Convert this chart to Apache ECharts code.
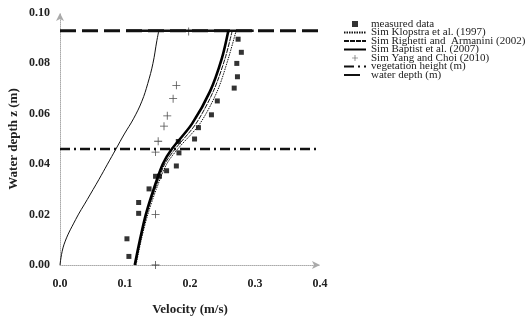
<!DOCTYPE html>
<html>
<head>
<meta charset="utf-8">
<script src="https://cdn.jsdelivr.net/npm/echarts@6/dist/echarts.min.js"></script>
<style>
  html, body {margin: 0; padding: 0; background: #fff;}
  #chart {width: 527px; height: 321px;}
</style>
</head>
<body>
<div id="chart"></div>
<script>
// measured data (velocity m/s, depth m)
const measuredV = [0.274, 0.279, 0.272, 0.273, 0.268, 0.242, 0.233, 0.213, 0.207, 0.182, 0.183, 0.179, 0.164, 0.153, 0.147, 0.137, 0.121, 0.121, 0.103, 0.106];
const measuredZ = [0.0896, 0.0844, 0.080, 0.0747, 0.0702, 0.0651, 0.0596, 0.0545, 0.050, 0.049, 0.0445, 0.0393, 0.0374, 0.0352, 0.0352, 0.0302, 0.0248, 0.0205, 0.0104, 0.0034];

// Sim Yang and Choi (2010)
const yangV = [0.198, 0.179, 0.174, 0.165, 0.160, 0.151, 0.147, 0.147, 0.147];
const yangZ = [0.0927, 0.0713, 0.066, 0.0592, 0.0551, 0.0491, 0.0448, 0.0201, 0.000];

// model profiles share these depths
const profileZ = [0, 0.01, 0.02, 0.03, 0.04, 0.046, 0.056, 0.069, 0.082, 0.093];
const baptistV = [0.115, 0.123, 0.132, 0.144, 0.158, 0.172, 0.203, 0.231, 0.249, 0.259];
const righettiV = [0.116, 0.124, 0.133, 0.146, 0.161, 0.177, 0.209, 0.236, 0.254, 0.265];
const klopstraV = [0.117, 0.125, 0.135, 0.148, 0.164, 0.181, 0.215, 0.242, 0.259, 0.271];

// thin curve on the left
const leftZ = [0, 0.008, 0.018, 0.026, 0.034, 0.040, 0.046, 0.052, 0.058, 0.065, 0.072, 0.080, 0.089, 0.093];
const leftV = [0, 0.006, 0.024, 0.042, 0.060, 0.073, 0.086, 0.099, 0.113, 0.126, 0.135, 0.143, 0.149, 0.152];

const vegHeight = 0.046;
const waterDepth = 0.093;
const surfaceV = [0.102, 0.298];

const xTicks = ['0.0', '0.1', '0.2', '0.3', '0.4'];
const yTicks = ['0.00', '0.02', '0.04', '0.06', '0.08', '0.10'];

const pairs = (xs, ys) => xs.map((x, i) => [x, ys[i]]);

const SERIF = 'Liberation Serif';
const plusPath = 'path://M6.3,0H7.7V6.3H14V7.7H7.7V14H6.3V7.7H0V6.3H6.3Z';
const squarePath = 'path://M0,0H10V10H0Z';
const noMarker = {opacity: 0};

const chart = echarts.init(document.getElementById('chart'), null, {renderer: 'canvas'});

const option = {
  animation: false,
  backgroundColor: '#fff',
  grid: {left: 60, right: 207, top: 13, bottom: 54},
  legend: {
    orient: 'vertical',
    left: 343,
    top: 18.5,
    padding: 0,
    itemWidth: 22,
    itemHeight: 6,
    itemGap: -2.5,
    textStyle: {fontFamily: SERIF, fontSize: 11, lineHeight: 8, color: '#222'},
    data: [
      {name: 'measured data', icon: squarePath},
      {name: 'Sim Klopstra et al. (1997)', itemStyle: noMarker},
      {name: 'Sim Righetti and  Armanini (2002)', itemStyle: noMarker},
      {name: 'Sim Baptist et al. (2007)', itemStyle: noMarker},
      {name: 'Sim Yang and Choi (2010)', icon: plusPath},
      {name: 'vegetation height (m)', itemStyle: noMarker},
      {name: 'water depth (m)', itemStyle: noMarker},
    ],
  },
  xAxis: {
    type: 'value',
    min: 0,
    max: 0.4,
    interval: 0.1,
    name: 'Velocity (m/s)',
    nameLocation: 'middle',
    nameGap: 38,
    nameTextStyle: {fontFamily: SERIF, fontSize: 13, fontWeight: 'bold', color: '#222'},
    axisLine: {
      show: true,
      symbol: ['none', 'arrow'],
      symbolSize: [6, 8],
      lineStyle: {color: '#aaa', type: 'dotted', width: 1},
    },
    axisTick: {show: false},
    splitLine: {show: false},
    axisLabel: {
      margin: 13,
      fontFamily: SERIF,
      fontSize: 12,
      fontWeight: 'bold',
      color: '#222',
      formatter: (v) => xTicks[Math.round(v * 10)],
    },
  },
  yAxis: {
    type: 'value',
    min: 0,
    max: 0.1,
    interval: 0.02,
    name: 'Water depth z (m)',
    nameLocation: 'middle',
    nameGap: 40,
    nameTextStyle: {fontFamily: SERIF, fontSize: 13, fontWeight: 'bold', color: '#222'},
    axisLine: {
      show: true,
      symbol: ['none', 'arrow'],
      symbolSize: [6, 8],
      lineStyle: {color: '#aaa', type: 'dotted', width: 1},
    },
    axisTick: {show: false},
    splitLine: {show: false},
    axisLabel: {
      margin: 10,
      fontFamily: SERIF,
      fontSize: 12,
      fontWeight: 'bold',
      color: '#222',
      formatter: (v) => yTicks[Math.round(v * 50)],
    },
  },
  series: [
    {
      name: 'water depth (m)',
      type: 'line',
      symbol: 'none',
      itemStyle: {color: '#111'},
      lineStyle: {color: '#111', width: 3, type: [16, 6]},
      data: [[0, waterDepth], [0.4, waterDepth]],
    },
    {
      name: 'surface',
      type: 'line',
      symbol: 'none',
      lineStyle: {color: '#111', width: 2.5},
      data: surfaceV.map((v) => [v, waterDepth]),
    },
    {
      name: 'vegetation height (m)',
      type: 'line',
      symbol: 'none',
      itemStyle: {color: '#111'},
      lineStyle: {color: '#111', width: 2.5, type: [10, 4, 2, 4]},
      data: [[0, vegHeight], [0.4, vegHeight]],
    },
    {
      name: 'left profile',
      type: 'line',
      symbol: 'none',
      smooth: 0.4,
      lineStyle: {color: '#111', width: 1},
      data: pairs(leftV, leftZ),
    },
    {
      name: 'Sim Klopstra et al. (1997)',
      type: 'line',
      symbol: 'none',
      smooth: 0.3,
      itemStyle: {color: '#111'},
      lineStyle: {color: '#111', width: 1, type: [1.5, 1]},
      data: pairs(klopstraV, profileZ),
    },
    {
      name: 'Sim Righetti and  Armanini (2002)',
      type: 'line',
      symbol: 'none',
      smooth: 0.3,
      itemStyle: {color: '#111'},
      lineStyle: {color: '#111', width: 1, type: [5, 1]},
      data: pairs(righettiV, profileZ),
    },
    {
      name: 'Sim Baptist et al. (2007)',
      type: 'line',
      symbol: 'none',
      smooth: 0.3,
      itemStyle: {color: '#000'},
      lineStyle: {color: '#000', width: 2.6},
      data: pairs(baptistV, profileZ),
    },
    {
      name: 'measured data',
      type: 'scatter',
      symbol: 'rect',
      symbolSize: 5,
      itemStyle: {color: '#000'},
      data: pairs(measuredV, measuredZ),
    },
    {
      name: 'Sim Yang and Choi (2010)',
      type: 'scatter',
      symbol: plusPath,
      symbolSize: 8,
      itemStyle: {color: '#222'},
      data: pairs(yangV, yangZ),
    },
  ],
};

chart.setOption(option);
</script>
</body>
</html>
